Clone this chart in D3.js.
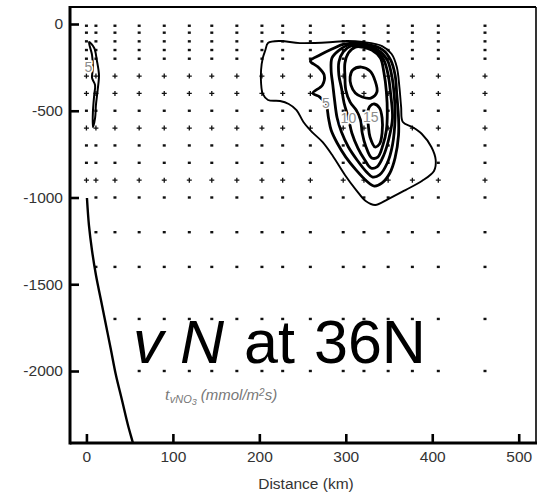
<!DOCTYPE html>
<html>
<head>
<meta charset="utf-8">
<script src="https://cdn.jsdelivr.net/npm/d3@7"></script>
<style>
  html, body { margin: 0; padding: 0; background: #fff; }
  svg { display: block; font-family: "Liberation Sans", Arial, sans-serif; }
</style>
</head>
<body>
<div id="chart"></div>
<script>
// station positions along the section (km) and the deepest sample at each (m)
const stations = [0, 11, 33, 61, 90, 119, 145, 174, 203, 227, 259, 297, 321, 349, 377, 407, 461];
const stationBottom = [900, 1400, 1700, 2000, 2000, 2000, 2000, 2000, 2000, 2000, 2000, 2000, 2000, 2000, 2000, 2000, 2000];
const depths = [10, 50, 100, 150, 200, 300, 400, 500, 600, 700, 800, 900, 1000, 1200, 1400, 1700, 2000];
const crossDepths = [300, 400, 600, 900];

const xTicks = [0, 100, 200, 300, 400, 500];
const yTicks = [0, -500, -1000, -1500, -2000];

// contours of the transport, [distance km, depth m]
const contour0 = [[210,-110],[224,-98],[247,-110],[285,-104],[301,-98],[320,-104],[342,-127],[353,-173],
  [359,-248],[362,-363],[364,-478],[366,-565],[377,-594],[388,-634],[399,-709],[404,-784],[402,-847],
  [388,-905],[369,-957],[349,-1009],[334,-1043],[323,-1020],[312,-957],[299,-870],[285,-761],[273,-680],
  [261,-623],[251,-565],[243,-496],[234,-461],[224,-444],[210,-438],[204,-403],[202,-340],[202,-265],
  [204,-196],[207,-150]];
const contour5 = [[299,-115],[284,-144],[270,-179],[259,-213],[268,-248],[275,-294],[273,-352],[262,-398],
  [270,-421],[277,-461],[280,-542],[283,-611],[290,-686],[300,-767],[312,-842],[324,-905],[333,-934],
  [342,-916],[351,-859],[357,-772],[361,-640],[361,-542],[359,-409],[357,-294],[352,-208],[343,-150],[322,-115]];
const contour7 = [[303,-121],[291,-156],[284,-196],[283,-265],[285,-352],[287,-438],[290,-542],[295,-623],
  [303,-709],[313,-784],[324,-853],[331,-882],[339,-870],[348,-801],[354,-697],[357,-542],[356,-409],
  [353,-294],[348,-208],[337,-150],[319,-121]];
const contour10 = [[306,-127],[297,-161],[292,-219],[292,-294],[295,-369],[298,-455],[303,-542],[307,-628],
  [314,-715],[322,-784],[329,-830],[336,-824],[344,-755],[350,-657],[354,-542],[352,-409],[349,-294],
  [344,-208],[334,-150],[319,-127]];
const contour12 = [[311,-133],[303,-167],[299,-225],[299,-300],[300,-380],[305,-450],[312,-496],[317,-553],
  [319,-628],[323,-703],[330,-772],[337,-767],[343,-697],[347,-611],[348,-513],[347,-392],[344,-277],
  [340,-196],[330,-150],[319,-133]];
const contour15a = [[308,-265],[318,-248],[328,-271],[334,-329],[336,-392],[329,-427],[319,-421],[311,-398],
  [306,-352],[305,-305]];
const contour15b = [[328,-473],[325,-519],[326,-582],[328,-651],[334,-709],[339,-692],[342,-628],[342,-542],
  [339,-484],[333,-461]];
const contourWest = [[3,-104],[9,-138],[12,-208],[14.5,-294],[13,-380],[11,-467],[10,-542],[7.5,-594],
  [7.5,-507],[9,-409],[10,-352],[6.5,-311],[7.5,-254],[6.5,-179]];
const slopeLine = [[0.6,-1003],[2.9,-1159],[6.4,-1303],[11,-1447],[16.8,-1591],[22.6,-1735],[28.4,-1879],
  [34.1,-2023],[41.1,-2167],[48,-2311],[53.8,-2415],[56,-2460]];

const contourLabels = [
  { text: "5", at: [277, -455] },
  { text: "10", at: [303, -542] },
  { text: "15", at: [329, -536] },
  { text: "5", at: [2.3, -248] }
];

const W = 542, H = 494;
const svg = d3.select("#chart").append("svg").attr("width", W).attr("height", H);
svg.append("rect").attr("width", W).attr("height", H).attr("fill", "#fff");

const mLeft = 70, mRight = 536, mTop = 7, mBottom = 443;
const x = d3.scaleLinear().domain([-19, 520]).range([mLeft, mRight]);
const y = d3.scaleLinear().domain([-2415, 98]).range([mBottom, mTop]);

svg.append("clipPath").attr("id", "plotclip")
  .append("rect").attr("x", mLeft).attr("y", mTop).attr("width", mRight - mLeft).attr("height", mBottom - mTop);

// sample grid
const samples = [];
stations.forEach((s, i) => {
  depths.forEach(d => { if (d <= stationBottom[i]) samples.push({ s, d }); });
});
const dots = svg.append("g").attr("fill", "#111").attr("stroke", "#111");
samples.forEach(p => {
  const px = x(p.s), py = y(-p.d);
  if (crossDepths.includes(p.d)) {
    dots.append("path").attr("d", `M${px - 2.5},${py}h5M${px},${py - 2.5}v5`).attr("stroke-width", 1.3).attr("fill", "none");
  } else {
    dots.append("rect").attr("x", px - 1.5).attr("y", py - 1.2).attr("width", 3).attr("height", 2.4).attr("stroke", "none");
  }
});

// contours
const closed = d3.line().x(d => x(d[0])).y(d => y(d[1])).curve(d3.curveCatmullRomClosed.alpha(0.5));
const open = d3.line().x(d => x(d[0])).y(d => y(d[1])).curve(d3.curveCatmullRom.alpha(0.5));
const cg = svg.append("g").attr("clip-path", "url(#plotclip)").attr("fill", "none").attr("stroke", "#000")
  .attr("stroke-linejoin", "round");

cg.append("path").attr("d", closed(contour0)).attr("stroke-width", 1.9);
[contour5, contour7, contour10, contour12, contour15a, contour15b].forEach(c => {
  cg.append("path").attr("d", closed(c)).attr("stroke-width", 2.8);
});
cg.append("path").attr("d", closed(contourWest)).attr("stroke-width", 2);
cg.append("path").attr("d", open(slopeLine)).attr("stroke-width", 2.4);

svg.append("g").selectAll("text").data(contourLabels).join("text")
  .attr("x", d => x(d.at[0])).attr("y", d => y(d.at[1]))
  .attr("text-anchor", "middle").attr("dy", "0.36em")
  .attr("font-size", 14).attr("fill", "#8c8c8c")
  .attr("stroke", "#fff").attr("stroke-width", 3).attr("paint-order", "stroke")
  .text(d => d.text);

// axes
const xAxis = d3.axisBottom(x).tickValues(xTicks).tickSize(-9).tickPadding(8).tickFormat(d => String(d));
const yAxis = d3.axisLeft(y).tickValues(yTicks).tickSize(-9).tickPadding(7).tickFormat(d => String(d));

const gx = svg.append("g").attr("transform", `translate(0,${mBottom})`).call(xAxis);
const gy = svg.append("g").attr("transform", `translate(${mLeft},0)`).call(yAxis);
[gx, gy].forEach(g => {
  g.select(".domain").remove();
  g.selectAll(".tick line").attr("stroke", "#000").attr("stroke-width", 2.6);
  g.selectAll(".tick text").attr("fill", "#333").attr("font-size", 15.5)
    .attr("font-family", "'Liberation Sans', Arial, sans-serif");
});

// frame
svg.append("line").attr("x1", mLeft).attr("x2", mRight).attr("y1", mTop).attr("y2", mTop).attr("stroke", "#000").attr("stroke-width", 2);
svg.append("line").attr("x1", mRight).attr("x2", mRight).attr("y1", mTop).attr("y2", mBottom).attr("stroke", "#000").attr("stroke-width", 1.6);
svg.append("line").attr("x1", mLeft).attr("x2", mLeft).attr("y1", mTop - 1).attr("y2", mBottom + 1.5).attr("stroke", "#000").attr("stroke-width", 3);
svg.append("line").attr("x1", mLeft).attr("x2", mRight + 1).attr("y1", mBottom).attr("y2", mBottom).attr("stroke", "#000").attr("stroke-width", 3);

svg.append("text").attr("x", 306).attr("y", 489).attr("text-anchor", "middle")
  .attr("font-size", 15.5).attr("fill", "#333").text("Distance (km)");

// big title
const title = svg.append("text").attr("y", 363).attr("font-size", 61).attr("fill", "#000");
title.append("tspan").attr("x", 133).attr("font-style", "italic").text("v");
title.append("tspan").attr("x", 180).attr("font-style", "italic").text("N");
title.append("tspan").attr("x", 244).text("at");
title.append("tspan").attr("x", 314).text("36N");

// units caption
const cap = svg.append("text").attr("y", 400).attr("fill", "#777").attr("font-size", 15).attr("font-style", "italic");
cap.append("tspan").attr("x", 165).attr("font-family", "'Liberation Serif', serif").attr("font-size", 17).text("t");
cap.append("tspan").attr("font-size", 11).attr("dy", 3).text("vNO");
cap.append("tspan").attr("font-size", 9).attr("dy", 2).text("3");
cap.append("tspan").attr("dy", -5).attr("dx", 4).text("(mmol/m");
cap.append("tspan").attr("font-size", 10).attr("dy", -4).text("2");
cap.append("tspan").attr("dy", 4).text("s)");
</script>
</body>
</html>
